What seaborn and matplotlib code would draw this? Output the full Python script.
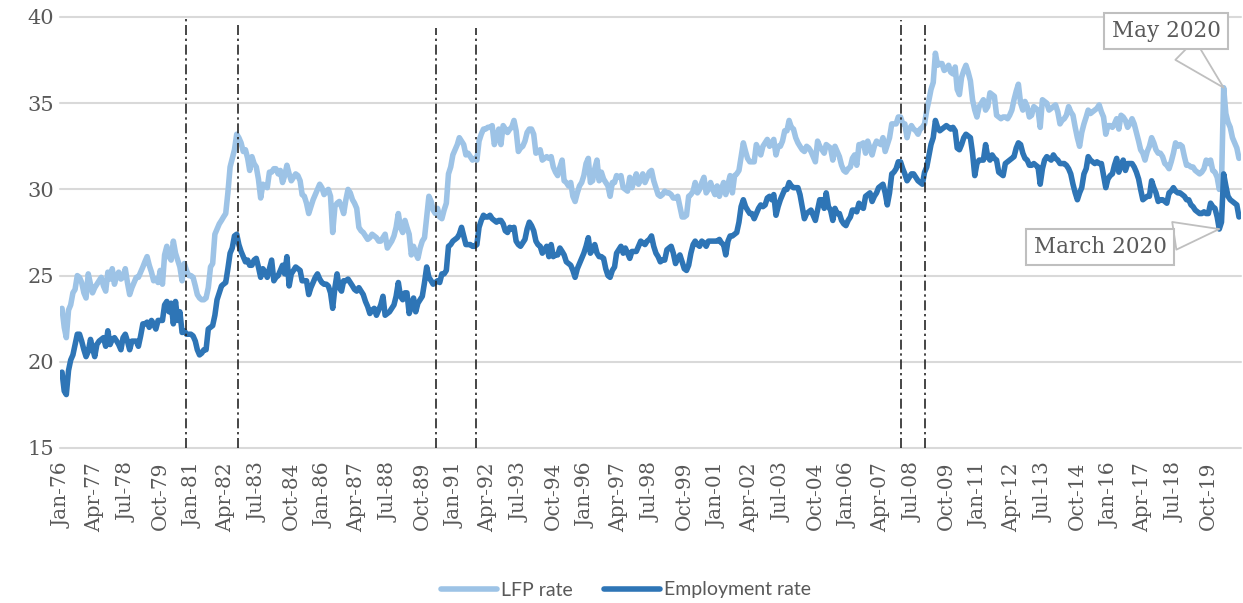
import numpy as np
import pandas as pd
import matplotlib
matplotlib.use("Agg")
import matplotlib.pyplot as plt
from matplotlib.lines import Line2D
import seaborn as sns

# ---------------- data ----------------
months = pd.date_range("1976-01-01", periods=540, freq="MS")

lfp_rate = [
    23.1, 22.0, 21.4, 23.0, 23.3, 24.0, 24.2, 25.0, 24.9, 24.6, 24.0, 23.7,
    25.1, 24.5, 24.0, 24.3, 24.5, 24.7, 24.9, 24.4, 24.1, 25.2, 24.8, 25.4,
    24.5, 25.0, 25.2, 24.8, 24.9, 25.4, 24.6, 23.9, 24.3, 24.6, 24.9, 24.9,
    25.2, 25.5, 25.8, 26.1, 25.6, 25.2, 24.7, 24.8, 24.6, 25.3, 24.5, 26.2,
    26.7, 26.1, 25.9, 27.0, 26.3, 25.9, 25.5, 24.7, 25.7, 25.3, 25.0, 25.0,
    24.9, 24.4, 23.9, 23.7, 23.6, 23.6, 23.7, 24.3, 25.5, 25.7, 27.4, 27.7,
    28.0, 28.2, 28.4, 28.6, 29.8, 31.3, 31.8, 32.3, 33.2, 33.0, 32.7, 32.2,
    32.3, 31.8, 31.1, 31.9, 31.5, 31.3, 30.6, 29.5, 30.3, 30.2, 30.1, 31.0,
    31.0, 31.2, 31.2, 30.9, 31.1, 30.4, 30.8, 31.4, 30.9, 30.5, 30.7, 30.9,
    30.8, 30.5, 29.7, 29.6, 29.2, 28.6, 29.0, 29.4, 29.7, 30.0, 30.3, 30.1,
    29.7, 29.9, 30.0, 29.6, 27.5, 29.0, 29.2, 29.3, 29.0, 28.6, 29.4, 30.0,
    29.8, 29.4, 29.2, 28.9, 27.8, 27.6, 27.5, 27.3, 27.1, 27.2, 27.4, 27.3,
    27.2, 27.0, 27.0, 27.2, 27.4, 26.6, 26.8, 27.0, 27.3, 27.8, 28.6, 27.8,
    27.5, 28.2, 27.8, 27.4, 26.2, 26.7, 26.3, 26.0, 26.6, 27.0, 27.2, 28.4,
    29.6, 29.3, 28.8, 28.6, 28.9, 28.4, 28.3, 28.8, 29.2, 30.9, 31.3, 32.0,
    32.3, 32.6, 33.0, 32.8, 32.6, 32.0, 32.1, 31.9, 31.7, 31.8, 31.7, 32.8,
    33.2, 33.5, 33.5, 33.6, 33.6, 33.7, 32.6, 33.0, 33.5, 32.6, 33.7, 33.5,
    33.3, 33.5, 33.6, 34.0, 33.4, 32.2, 32.4, 32.5, 32.8, 33.3, 33.5, 33.5,
    33.2, 32.1, 32.2, 32.3, 31.7, 31.8, 31.9, 31.8, 31.9, 31.3, 31.0, 30.8,
    31.3, 31.7, 30.5, 30.4, 30.2, 30.4, 29.6, 29.3, 29.8, 30.2, 30.4, 30.8,
    31.5, 31.8, 30.4, 30.5, 31.2, 31.7, 30.5, 31.0, 30.6, 30.4, 30.2, 29.6,
    30.4, 30.4, 30.8, 30.7, 30.8, 30.1, 30.0, 29.9, 30.7, 30.1, 30.5, 30.9,
    30.3, 30.6, 30.9, 30.4, 30.7, 31.0, 31.1, 30.5, 30.1, 29.7, 29.6, 29.7,
    29.9, 29.8, 29.8, 29.7, 29.5, 29.5, 29.6, 29.0, 28.4, 28.4, 28.5, 29.6,
    29.7, 29.9, 30.4, 29.8, 30.0, 30.4, 30.7, 29.8, 30.0, 30.4, 30.0, 29.7,
    30.2, 29.6, 30.0, 30.4, 29.7, 30.3, 30.8, 29.8, 30.8, 30.9, 31.1, 31.9,
    32.7, 32.2, 31.8, 31.6, 31.6, 31.6, 32.6, 32.3, 32.0, 32.5, 32.7, 32.9,
    32.5, 32.7, 32.9, 32.0, 32.5, 32.5, 32.8, 33.4, 33.4, 34.0, 33.6, 33.5,
    33.0, 32.7, 32.5, 32.3, 32.2, 32.5, 32.4, 32.2, 31.9, 31.6, 32.8, 32.5,
    32.3, 32.1, 32.6, 32.5, 32.4, 31.7, 32.5, 32.2, 31.9, 31.4, 31.1, 31.0,
    31.2, 31.3, 31.8, 32.0, 31.4, 32.6, 32.6, 32.7, 32.1, 32.8, 32.4, 32.0,
    32.5, 32.8, 32.7, 32.6, 33.0, 32.2, 32.6, 33.0, 33.8, 33.8, 33.8, 34.2,
    34.2, 33.8, 33.8, 33.0, 33.5, 33.7, 33.5, 33.4, 33.2, 33.5, 33.6, 33.8,
    34.6, 35.2, 35.8, 36.2, 37.9, 37.2, 37.3, 37.3, 36.9, 37.0, 37.2, 36.8,
    36.7, 37.1, 35.8, 35.5, 36.5, 36.9, 37.2, 36.8, 36.3, 35.2, 34.6, 34.2,
    34.8, 35.0, 35.2, 34.6, 34.8, 35.6, 35.5, 35.4, 34.3, 34.2, 34.1, 34.2,
    34.2, 34.1, 34.3, 34.6, 35.2, 35.7, 36.1, 35.0, 34.6, 35.1, 34.8, 34.2,
    34.3, 34.8, 34.7, 34.6, 33.6, 35.2, 35.1, 35.0, 34.6, 34.7, 34.8, 34.9,
    34.5, 33.8, 34.0, 34.1, 34.3, 34.8, 34.5, 34.3, 33.6, 33.0, 32.5, 33.3,
    33.8, 34.2, 34.6, 34.4, 34.5, 34.6, 34.7, 34.9, 34.5, 34.2, 33.2, 33.7,
    33.7, 33.6, 33.8, 34.1, 33.5, 34.3, 34.2, 34.0, 33.6, 33.8, 34.1, 33.8,
    33.3, 32.8, 32.3, 32.1, 31.7, 32.2, 32.5, 33.0, 32.7, 32.3, 32.1, 32.1,
    31.9, 31.5, 31.4, 31.2, 31.6, 32.1, 32.7, 32.5, 32.6, 32.5, 31.9, 31.4,
    31.4, 31.3, 31.3, 31.1, 31.0, 30.9, 31.0, 31.2, 31.7, 31.5, 31.7, 31.1,
    31.0, 30.7, 30.0, 30.3, 35.9, 34.4, 33.9, 33.6, 33.0, 32.7, 32.4, 31.8,
]

emp_rate = [
    19.4, 18.3, 18.1, 19.5, 20.1, 20.4, 21.0, 21.6, 21.6, 21.2, 20.7, 20.3,
    20.6, 21.3, 20.8, 20.3, 21.0, 21.2, 21.3, 21.4, 20.9, 21.8, 21.0, 21.3,
    21.4, 21.2, 21.0, 20.7, 21.4, 21.6, 21.2, 20.7, 21.2, 21.2, 21.2, 20.9,
    21.5, 22.2, 22.2, 22.3, 22.0, 22.4, 22.2, 21.9, 22.4, 22.4, 22.4, 23.3,
    23.5, 22.9, 23.4, 22.2, 23.5, 22.4, 22.9, 21.7, 21.8, 21.6, 21.6, 21.6,
    21.5, 21.2, 20.7, 20.4, 20.5, 20.7, 20.7, 21.9, 22.0, 22.1, 22.7, 23.6,
    24.0, 24.4, 24.5, 24.6, 25.4, 26.3, 26.6, 27.3, 27.4, 26.8, 26.4, 26.1,
    25.8, 25.9, 25.6, 25.6, 25.9, 26.0, 25.5, 24.9, 25.4, 25.2, 24.9, 25.4,
    25.9, 24.7, 24.9, 25.0, 25.3, 25.6, 25.1, 26.1, 24.4, 25.1, 25.3, 25.5,
    25.4, 25.3, 24.7, 24.7, 24.7, 23.9, 24.3, 24.6, 24.9, 25.1, 24.8, 24.6,
    24.5, 24.5, 24.4, 24.0, 23.1, 24.3, 25.1, 24.3, 24.1, 24.7, 24.7, 24.8,
    24.6, 24.4, 24.2, 24.1, 24.3, 24.1, 23.9, 23.5, 23.2, 22.8, 23.0, 23.1,
    22.7, 23.0, 23.3, 23.8, 22.7, 22.8, 22.9, 23.1, 23.3, 23.8, 24.6, 23.8,
    23.6, 24.0, 24.0, 22.8, 23.2, 23.7, 22.9, 23.4, 23.6, 23.8, 24.6, 25.5,
    24.9, 24.7, 24.5, 24.6, 24.7, 24.6, 25.1, 25.1, 25.3, 26.7, 26.8, 27.0,
    27.1, 27.2, 27.4, 27.8, 27.3, 26.8, 26.8, 26.8, 26.7, 26.7, 26.8, 27.8,
    28.2, 28.5, 28.4, 28.4, 28.5, 28.3, 28.2, 28.1, 28.2, 28.2, 28.0, 27.6,
    27.5, 27.8, 27.7, 27.8, 27.0, 26.8, 26.7, 26.9, 27.1, 27.7, 28.1, 27.9,
    27.6, 27.0, 26.8, 26.7, 26.3, 26.5, 26.7, 26.1, 26.8, 26.1, 26.2, 26.2,
    26.6, 26.4, 26.2, 25.8, 25.7, 25.6, 25.3, 24.9, 25.4, 25.7, 26.0, 26.3,
    26.7, 27.2, 26.3, 26.5, 26.8, 26.3, 26.1, 26.1, 26.0, 25.4, 25.0, 24.9,
    25.3, 25.5, 26.3, 26.5, 26.7, 26.3, 26.6, 26.3, 26.0, 26.4, 26.4, 26.4,
    26.7, 27.0, 26.9, 26.8, 27.0, 27.1, 27.3, 26.7, 26.3, 26.1, 25.8, 25.9,
    25.9, 26.5, 26.6, 26.7, 26.3, 25.7, 26.0, 26.2, 25.8, 25.4, 25.3, 25.6,
    26.3, 26.8, 27.0, 26.8, 26.7, 27.0, 26.9, 26.7, 27.0, 27.0, 27.0, 27.0,
    27.0, 27.1, 26.9, 26.8, 26.2, 27.0, 27.3, 27.3, 27.4, 27.5, 28.1, 29.0,
    29.4, 29.0, 28.8, 28.6, 28.6, 28.3, 28.6, 28.9, 29.1, 29.0, 29.1, 29.5,
    29.6, 29.4, 29.7, 28.5, 29.0, 29.4, 29.7, 30.0, 30.0, 30.4, 30.2, 30.1,
    30.1, 30.1, 29.7, 29.0, 28.3, 28.6, 28.7, 28.8, 28.5, 28.2, 28.8, 29.4,
    29.4, 28.9, 29.8, 29.0, 28.8, 28.2, 28.9, 28.6, 28.6, 28.2, 28.0, 27.9,
    28.2, 28.4, 28.8, 28.8, 28.7, 29.2, 29.0, 28.9, 29.6, 29.7, 29.8, 29.3,
    29.6, 29.8, 30.1, 30.2, 30.3, 29.8, 29.1, 29.8, 30.9, 31.0, 31.2, 31.6,
    31.6, 31.2, 30.9, 30.5, 30.7, 30.9, 30.9, 30.7, 30.5, 30.4, 30.3, 31.0,
    31.3, 32.0, 32.6, 33.0, 34.0, 33.6, 33.4, 33.5, 33.6, 33.7, 33.6, 33.5,
    33.6, 33.4, 32.4, 32.3, 32.6, 33.0, 33.2, 33.1, 33.0, 32.1, 30.8, 31.5,
    31.7, 31.7, 31.7, 32.6, 31.9, 31.7, 32.0, 31.8, 31.7, 31.0, 30.9, 30.8,
    31.5, 31.6, 31.7, 31.8, 31.9, 32.4, 32.7, 32.6, 32.1, 31.8, 31.7, 31.4,
    31.4, 31.5, 31.4, 31.3, 30.3, 31.2, 31.7, 31.9, 31.8, 31.7, 32.0, 31.8,
    31.7, 31.5, 31.5, 31.5, 31.4, 31.2, 30.9, 30.3, 29.8, 29.4, 29.8, 30.1,
    30.9, 31.2, 31.9, 31.7, 31.6, 31.5, 31.6, 31.5, 31.5, 30.8, 30.1, 30.6,
    30.8, 30.9, 31.4, 31.8, 31.0, 31.4, 31.7, 31.1, 31.5, 31.5, 31.5, 31.3,
    31.0, 30.6, 30.0, 29.4, 29.5, 29.6, 29.6, 30.5, 30.1, 29.8, 29.3, 29.4,
    29.4, 29.3, 29.2, 29.8, 29.9, 30.1, 29.9, 29.8, 29.8, 29.7, 29.6, 29.4,
    29.4, 29.1, 29.0, 28.8, 28.7, 28.6, 28.6, 28.7, 28.6, 28.6, 29.2, 29.0,
    28.9, 28.4, 27.7, 28.1, 30.9, 30.2, 29.6, 29.4, 29.3, 29.2, 29.1, 28.4,
]

series_names = ["LFP rate", "Employment rate"]
series_colors = ["#9DC3E6", "#2E75B6"]
tick_months = months[::15]
tick_labels = [d.strftime("%b-%y") for d in tick_months]
y_ticks = [15, 20, 25, 30, 35, 40]

recession_lines = pd.to_datetime(["1980-10-01", "1982-09-16", "1990-04-10",
                                  "1991-10-18", "2008-01-01", "2008-12-01"])
recession_tops = [40.0, 39.65, 39.35, 39.35, 39.8, 39.6]

callouts = [("March 2020", "2020-03-01", "Employment rate"),
            ("May 2020", "2020-05-01", "LFP rate")]

# ---------------- figure ----------------
df = pd.DataFrame({
    "month": np.concatenate([months, months]),
    "value": lfp_rate + emp_rate,
    "series": np.repeat(series_names, len(months)),
})

sns.set_theme(style="white")
W, H = 1243, 603
fig = plt.figure(figsize=(W / 100, H / 100), dpi=100)
ax = fig.add_axes([60 / W, 1 - 448 / H, (1241 - 60) / W, (448 - 17) / H])

LW = 4.0
sns.lineplot(data=df, x="month", y="value", hue="series",
             palette=dict(zip(series_names, series_colors)),
             hue_order=series_names, linewidth=LW, ax=ax, legend=False,
             estimator=None, sort=False)
for ln in ax.lines:
    ln.set_solid_capstyle("round")
    ln.set_solid_joinstyle("round")

ax.vlines(recession_lines, 15, recession_tops, colors="#262626",
          linestyles=(0, (6, 2.2, 1.4, 2.2)), linewidth=1.2, zorder=3)

ax.set_ylim(15, 40)
ax.set_xlim(months[0] - pd.Timedelta(days=28), months[-1] + pd.Timedelta(days=28))
ax.set_yticks(y_ticks)
ax.set_yticklabels([str(v) for v in y_ticks], fontfamily="DejaVu Serif",
                   fontsize=15, color="#595959")
ax.set_xticks(tick_months)
ax.set_xticklabels(tick_labels, rotation=90, fontfamily="DejaVu Serif",
                   fontsize=14.5, color="#595959")
ax.tick_params(axis="x", length=0, pad=10)
ax.tick_params(axis="y", length=0, pad=4)
ax.set_xlabel("")
ax.set_ylabel("")
ax.grid(axis="y", color="#d9d9d9", linewidth=1.5)
ax.grid(axis="x", visible=False)
ax.set_axisbelow(True)
for gl in ax.get_ygridlines():
    gl.set_clip_on(False)
for s in ax.spines.values():
    s.set_visible(False)

# callouts
series_vals = dict(zip(series_names, [lfp_rate, emp_rate]))
text_pos = {"March 2020": (0.8806, 0.4664), "May 2020": (0.9365, 0.9675)}
for label, date, ser in callouts:
    i = months.get_loc(pd.Timestamp(date))
    ax.annotate(label, xy=(months[i], series_vals[ser][i]),
                xytext=text_pos[label], textcoords="axes fraction",
                ha="center", va="center", fontsize=15.5,
                fontfamily="DejaVu Serif", color="#595959",
                bbox=dict(boxstyle="square,pad=0.33", fc="white",
                          ec="#bfbfbf", lw=1.5),
                arrowprops=dict(arrowstyle="wedge,tail_width=1.3,shrink_factor=0.5",
                                fc="white", ec="#bfbfbf", lw=1.3,
                                shrinkA=0, shrinkB=0),
                zorder=5, annotation_clip=False)

handles = [Line2D([0], [0], color=c, lw=LW, solid_capstyle="round")
           for c in series_colors]
fig.legend(handles, series_names, loc="center",
           bbox_to_anchor=(626 / W, 1 - 590 / H), ncol=2, frameon=False,
           prop={"family": "Lato", "size": 14}, labelcolor="#595959",
           handlelength=2.9, handletextpad=0.2, columnspacing=1.6)

fig.savefig("out.png", dpi=100)
